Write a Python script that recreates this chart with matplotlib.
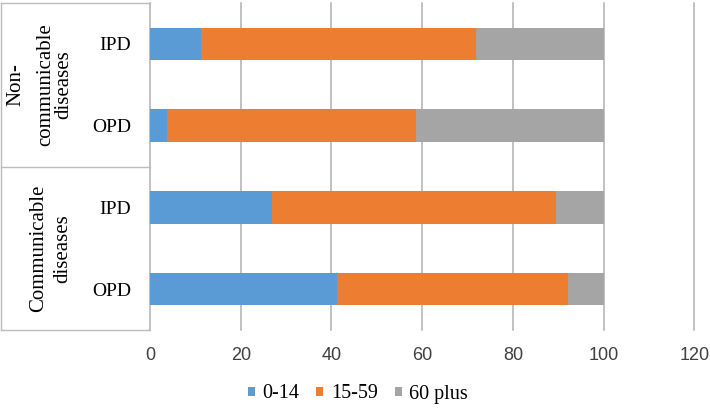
import matplotlib
matplotlib.use("Agg")
import matplotlib.pyplot as plt
from matplotlib.patches import Patch
from matplotlib.lines import Line2D
from matplotlib import transforms

# ---- data ----
categories = ["OPD", "IPD", "OPD", "IPD"]          # bottom to top
groups = ["Communicable diseases", "Non-communicable diseases"]
series_names = ["0-14", "15-59", "60 plus"]
age_0_14 = [41.3, 26.9, 3.8, 11.3]
age_15_59 = [50.8, 62.6, 54.8, 60.5]
age_60_plus = [7.9, 10.5, 41.4, 28.2]
x_ticks = [0, 20, 40, 60, 80, 100, 120]

colors = ["#5b9bd5", "#ed7d31", "#a5a5a5"]
grid_color = "#b0b0b0"
box_color = "#bcbcbc"

W, H = 710, 408
fig = plt.figure(figsize=(W / 100, H / 100), dpi=100)
ax = fig.add_axes([150 / W, (H - 330) / H, (694.3 - 150) / W, 327 / H])

serif = ["Liberation Serif", "DejaVu Serif"]
narrow = ["Liberation Sans Narrow", "Liberation Sans", "DejaVu Sans"]

ypos = list(range(len(categories)))
left = [0] * len(categories)
for vals, col, name in zip([age_0_14, age_15_59, age_60_plus], colors, series_names):
    ax.barh(ypos, vals, left=left, height=0.4, color=col, label=name, zorder=3)
    left = [l + v for l, v in zip(left, vals)]

ax.set_xlim(0, 120)
ax.set_ylim(-0.5, 3.5)
ax.set_xticks(x_ticks)
ax.set_xticklabels([str(t) for t in x_ticks], family=narrow, fontsize=13)
ax.set_yticks(ypos)
ax.set_yticklabels(categories, family=serif, fontsize=14)
ax.tick_params(axis="x", length=0, pad=12, colors="#404040", labelcolor="#404040")
ax.tick_params(axis="y", length=0, pad=13.7, labelcolor="black")
for s in ax.spines.values():
    s.set_visible(False)
ax.grid(axis="x", color=grid_color, linewidth=1.1, zorder=0)
ax.set_axisbelow(True)
for ln in ax.get_xgridlines():
    ln.set_clip_on(False)

# category box lines (figure x, axes y)
tr_ax = transforms.blended_transform_factory(fig.transFigure, ax.transAxes)
tr_dat = transforms.blended_transform_factory(fig.transFigure, ax.transData)
x0, x1 = 0.6 / W, 150 / W
for y in (0, 1):
    fig.add_artist(Line2D([x0, x1], [y, y], transform=tr_ax, color=box_color, linewidth=1.0))
fig.add_artist(Line2D([x0, x0], [0, 1], transform=tr_ax, color=box_color, linewidth=1.0))
fig.add_artist(Line2D([x0, x1], [1.5, 1.5], transform=tr_dat, color=box_color, linewidth=1.0))

# group labels (rotated); x centres in figure pixels
gfs = 15
fig.text(50.8 / W, 0.5, "Communicable\ndiseases", transform=tr_dat, rotation=90,
         rotation_mode="anchor", ha="center", va="center", multialignment="center",
         linespacing=1.38, family=serif, fontsize=gfs)
fig.text(20.7 / W, 2.5, "Non-", transform=tr_dat, rotation=90, rotation_mode="anchor",
         ha="center", va="baseline", family=serif, fontsize=gfs)
fig.text(54.5 / W, 2.5, "communicable\ndiseases", transform=tr_dat, rotation=90,
         rotation_mode="anchor", ha="center", va="center", multialignment="center",
         linespacing=0.9, family=serif, fontsize=gfs)

handles = [Patch(facecolor=c, edgecolor="none") for c in colors]
fig.legend(handles, series_names, loc="center", bbox_to_anchor=(358 / W, 1 - 394 / H),
           ncol=3, frameon=False, prop={"family": serif, "size": 14.5},
           handlelength=0.35, handleheight=0.35, handletextpad=0.38,
           columnspacing=0.83, borderpad=0, borderaxespad=0)

fig.savefig("out.png", dpi=100)
